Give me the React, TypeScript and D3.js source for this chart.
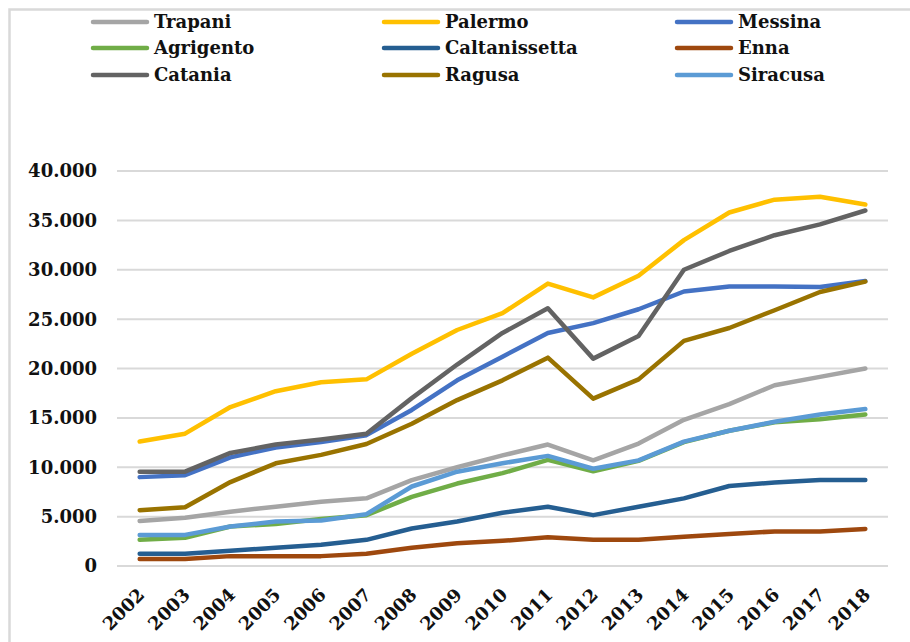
import React, { useEffect, useRef } from "react";
import * as d3 from "d3";

const years = ["2002", "2003", "2004", "2005", "2006", "2007", "2008", "2009", "2010", "2011", "2012", "2013", "2014", "2015", "2016", "2017", "2018"];

const trapani = [4560, 4890, 5500, 6010, 6500, 6850, 8700, 10000, 11200, 12300, 10700, 12400, 14800, 16400, 18300, 19150, 20000];
const palermo = [12600, 13400, 16100, 17700, 18600, 18900, 21500, 23900, 25600, 28600, 27200, 29400, 33000, 35800, 37100, 37400, 36600];
const messina = [9000, 9200, 11000, 12000, 12550, 13250, 15800, 18800, 21200, 23600, 24600, 26000, 27800, 28300, 28300, 28250, 28850];
const agrigento = [2650, 2850, 4000, 4250, 4750, 5150, 7000, 8350, 9400, 10750, 9600, 10650, 12550, 13700, 14550, 14850, 15350];
const caltanissetta = [1250, 1250, 1550, 1850, 2150, 2650, 3800, 4500, 5400, 6000, 5150, 6000, 6850, 8100, 8450, 8700, 8700];
const enna = [700, 700, 1000, 1000, 1000, 1250, 1850, 2300, 2550, 2900, 2650, 2650, 2950, 3250, 3500, 3500, 3750];
const catania = [9550, 9550, 11450, 12300, 12800, 13400, 17000, 20400, 23600, 26100, 21000, 23300, 30000, 31900, 33500, 34600, 36000];
const ragusa = [5650, 5950, 8500, 10400, 11250, 12350, 14400, 16800, 18800, 21100, 16950, 18900, 22800, 24100, 25900, 27750, 28800];
const siracusa = [3150, 3150, 4000, 4500, 4600, 5250, 8050, 9550, 10400, 11150, 9850, 10700, 12600, 13700, 14600, 15350, 15900];

const seriesNames = ["Trapani", "Palermo", "Messina", "Agrigento", "Caltanissetta", "Enna", "Catania", "Ragusa", "Siracusa"];
const seriesValues = [trapani, palermo, messina, agrigento, caltanissetta, enna, catania, ragusa, siracusa];
const seriesColors = ["#a5a5a5", "#ffc000", "#4472c4", "#70ad47", "#255e91", "#9e480e", "#636363", "#997300", "#5b9bd5"];

const yTicks = [0, 5000, 10000, 15000, 20000, 25000, 30000, 35000, 40000];

function App() {
  const svgRef = useRef<SVGSVGElement>(null);
  const width = 910;
  const height = 642;

  useEffect(() => {
    const svg = d3.select(svgRef.current);
    svg.selectAll("*").remove();

    const font = "'DejaVu Serif', serif";
    const plot = { left: 117, right: 888, top: 171, bottom: 566 };

    svg.append("rect").attr("width", width).attr("height", height).attr("fill", "#fff");

    // chart frame (only top and left edges show)
    svg
      .append("path")
      .attr("d", `M9.5,${height} V9.5 H${width}`)
      .attr("fill", "none")
      .attr("stroke", "#d9d9d9")
      .attr("stroke-width", 2.5);

    const x = d3.scaleBand().domain(years).range([plot.left, plot.right]);
    const y = d3.scaleLinear().domain([0, 40000]).range([plot.bottom, plot.top]);
    const cx = (yr: string) => (x(yr) as number) + x.bandwidth() / 2;

    // gridlines
    svg
      .append("g")
      .selectAll("line")
      .data(yTicks)
      .join("line")
      .attr("x1", plot.left)
      .attr("x2", plot.right)
      .attr("y1", (d) => y(d))
      .attr("y2", (d) => y(d))
      .attr("stroke", "#d9d9d9")
      .attr("stroke-width", 2);

    // y labels
    svg
      .append("g")
      .selectAll("text")
      .data(yTicks)
      .join("text")
      .attr("x", 97)
      .attr("y", (d) => y(d))
      .attr("dy", "0.36em")
      .attr("text-anchor", "end")
      .style("font-family", font)
      .style("font-weight", "bold")
      .style("font-size", "18px")
      .attr("fill", "#111")
      .text((d) => (d === 0 ? "0" : d3.format(",")(d).replace(",", ".")));

    // x labels
    svg
      .append("g")
      .selectAll("text")
      .data(years)
      .join("text")
      .attr("transform", (d) => `translate(${cx(d) + 6},${596}) rotate(-45)`)
      .attr("text-anchor", "end")
      .style("font-family", font)
      .style("font-weight", "bold")
      .style("font-size", "18px")
      .attr("fill", "#111")
      .text((d) => d);

    const line = d3
      .line<number>()
      .x((_, i) => cx(years[i]))
      .y((d) => y(d));

    seriesValues.forEach((vals, i) => {
      svg
        .append("path")
        .datum(vals)
        .attr("fill", "none")
        .attr("stroke", seriesColors[i])
        .attr("stroke-width", 4.5)
        .attr("stroke-linejoin", "round")
        .attr("stroke-linecap", "round")
        .attr("d", line);
    });

    // legend
    const colX = [93, 384, 677];
    const rowY = [22, 48, 75];
    const legend = svg
      .append("g")
      .selectAll("g")
      .data(seriesNames)
      .join("g")
      .attr("transform", (_, i) => `translate(${colX[i % 3]},${rowY[Math.floor(i / 3)]})`);

    legend
      .append("line")
      .attr("x1", 0)
      .attr("x2", 54)
      .attr("stroke", (_, i) => seriesColors[i])
      .attr("stroke-width", 4.5)
      .attr("stroke-linecap", "round");

    legend
      .append("text")
      .attr("x", 61)
      .attr("dy", "0.36em")
      .style("font-family", font)
      .style("font-weight", "bold")
      .style("font-size", "18px")
      .attr("fill", "#111")
      .text((d) => d);
  }, []);

  return (
    <svg
      ref={svgRef}
      width={width}
      height={height}
      style={{ position: "absolute", left: 0, top: 0 }}
    ></svg>
  );
}

export default App;
